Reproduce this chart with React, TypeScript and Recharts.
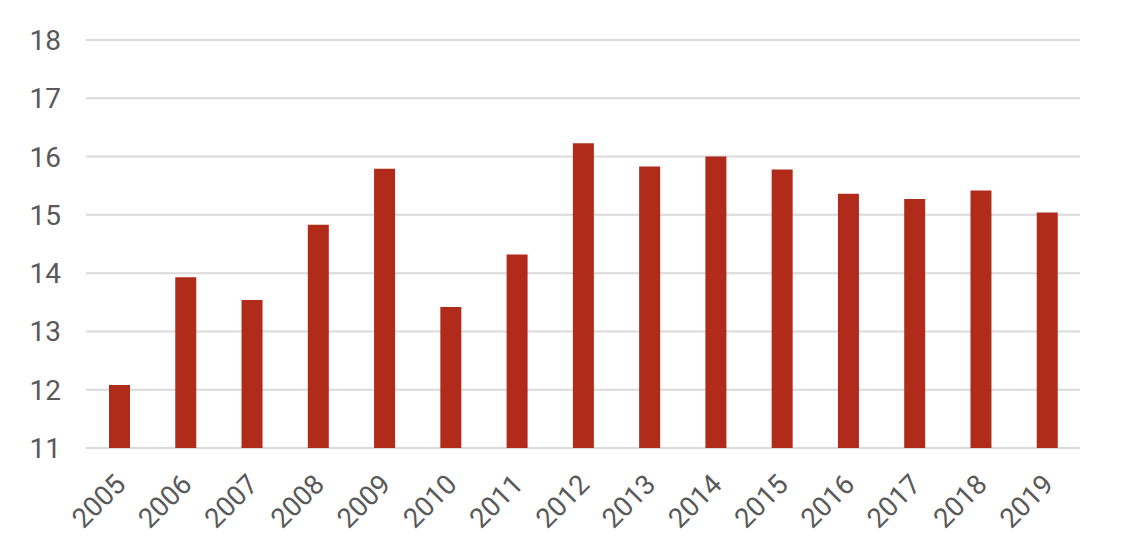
import React from 'react';
import { BarChart, Bar, XAxis, YAxis, CartesianGrid } from 'recharts';

const years = ['2005', '2006', '2007', '2008', '2009', '2010', '2011', '2012', '2013', '2014', '2015', '2016', '2017', '2018', '2019'];
const values = [12.08, 13.93, 13.54, 14.83, 15.79, 13.42, 14.32, 16.23, 15.83, 16.0, 15.78, 15.36, 15.27, 15.42, 15.04];
const yTicks = [11, 12, 13, 14, 15, 16, 17, 18];

const data = years.map((year, i) => ({ year, value: values[i] }));

const textColor = '#595959';

function YearTick({ x, y, payload }: any) {
  // anchor the end of the rotated label just below-right of the tick
  return (
    <g transform={ `translate(${ x + 8 },${ y + 38 })` }>
      <text
        textAnchor="end"
        transform="rotate(-45)"
        fill={ textColor }
        fontSize={ 27.5 }
        fontFamily="Roboto"
      >
        { payload.value }
      </text>
    </g>
  );
}

export default function App() {
  return (
    <div style={ { position: 'absolute', left: 0, top: 0, background: '#fff' } }>
      <BarChart
        width={ 1128 }
        height={ 548 }
        data={ data }
        margin={ { top: 40, right: 48, left: 0, bottom: 0 } }
      >
        <CartesianGrid vertical={ false } stroke="#d9d9d9" strokeWidth={ 2 } />
        <XAxis
          dataKey="year"
          height={ 100 }
          tickLine={ false }
          axisLine={ false }
          tickSize={ 0 }
          tickMargin={ 0 }
          interval={ 0 }
          tick={ <YearTick /> }
        />
        <YAxis
          width={ 86 }
          domain={ [11, 18] }
          ticks={ yTicks }
          tickLine={ false }
          axisLine={ false }
          tickSize={ 0 }
          tickMargin={ 25 }
          tick={ { fill: textColor, fontSize: 28, fontFamily: 'Roboto' } }
        />
        <Bar dataKey="value" fill="#b02b1a" barSize={ 21 } isAnimationActive={ false } />
      </BarChart>
    </div>
  );
}
